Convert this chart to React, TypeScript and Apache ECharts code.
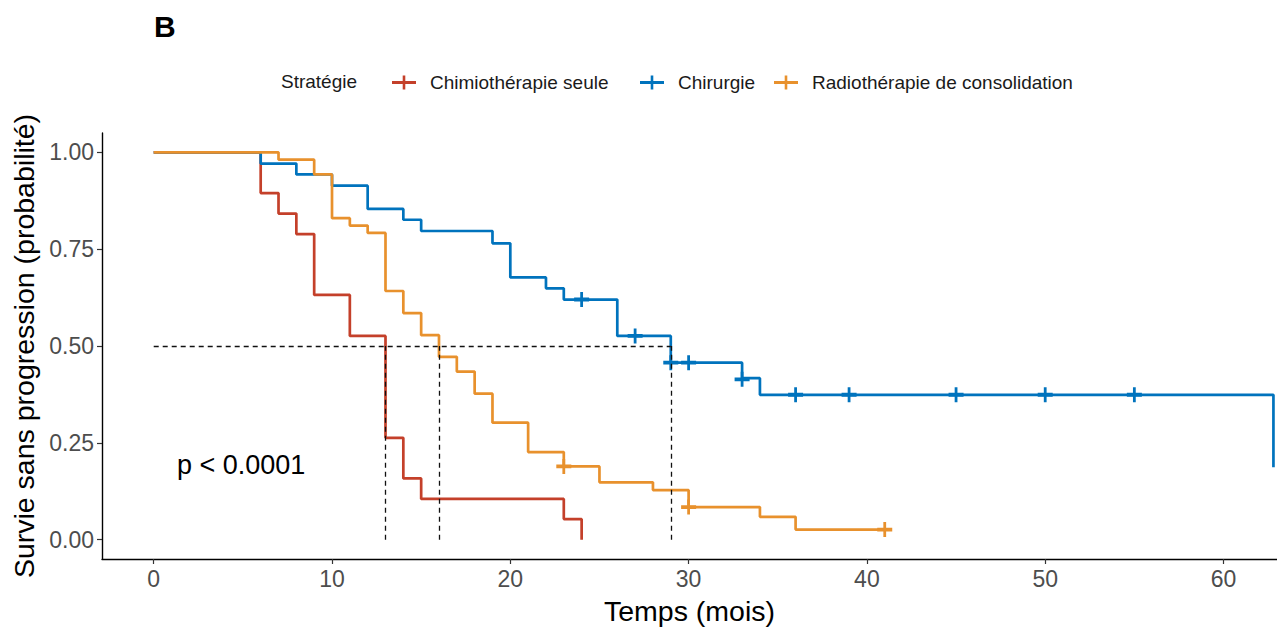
import React, { useEffect, useRef } from "react";
import * as echarts from "echarts";

// ---- data ----
const seriesNames = ["Chimiothérapie seule", "Chirurgie", "Radiothérapie de consolidation"];
const seriesColors = ["#C4402A", "#0073BD", "#E8912D"];

const chimioTime = [0, 6, 7, 8, 9, 11, 13, 14, 15, 23, 24];
const chimioSurv = [1, 0.895, 0.842, 0.789, 0.632, 0.526, 0.263, 0.158, 0.105, 0.053, 0];
const chimioCensorTime: number[] = [];
const chimioCensorSurv: number[] = [];

const chirTime = [0, 6, 8, 10, 12, 14, 15, 19, 20, 22, 23, 26, 29, 33, 34, 62.8];
const chirSurv = [1, 0.971, 0.943, 0.914, 0.854, 0.826, 0.797, 0.765, 0.677, 0.649, 0.62, 0.526, 0.457, 0.417, 0.374, 0.187];
const chirCensorTime = [24, 27, 29, 30, 33, 36, 39, 45, 50, 55];
const chirCensorSurv = [0.62, 0.526, 0.457, 0.457, 0.414, 0.374, 0.374, 0.374, 0.374, 0.374];

const radioTime = [0, 7, 9, 10, 11, 12, 13, 14, 15, 16, 17, 18, 19, 21, 23, 25, 28, 30, 34, 36, 41];
const radioSurv = [1, 0.981, 0.943, 0.83, 0.811, 0.792, 0.642, 0.585, 0.528, 0.472, 0.434, 0.377, 0.302, 0.226, 0.189, 0.148, 0.128, 0.084, 0.059, 0.026, 0.026];
const radioCensorTime = [23, 30, 41];
const radioCensorSurv = [0.189, 0.084, 0.026];

const medianTimes = [13, 16, 29];
const medianLevel = 0.5;

const xTicks = [0, 10, 20, 30, 40, 50, 60];
const yTicks = [0, 0.25, 0.5, 0.75, 1];

const legendTitle = "Stratégie";
const panelLabel = "B";
const pValueText = "p < 0.0001";
const xAxisTitle = "Temps (mois)";
const yAxisTitle = "Survie sans progression (probabilité)";

const FONT = "'Liberation Sans', Arial, Helvetica, sans-serif";

const zip = (a: number[], b: number[]) => a.map((v, i) => [v, b[i]]);

const legendIcon =
  "path://M0,5.6 L24,5.6 L24,8.4 L0,8.4 Z M10.7,0 L13.3,0 L13.3,14 L10.7,14 Z";
const censorIcon =
  "path://M0,5.2 L14,5.2 L14,8.8 L0,8.8 Z M5.7,0 L8.3,0 L8.3,14 L5.7,14 Z";

export default function App() {
  const ref = useRef<HTMLDivElement>(null);

  useEffect(() => {
    if (!ref.current) return;
    const chart = echarts.init(ref.current, undefined, { renderer: "svg" });

    const curves = [
      { t: chimioTime, s: chimioSurv, ct: chimioCensorTime, cs: chimioCensorSurv },
      { t: chirTime, s: chirSurv, ct: chirCensorTime, cs: chirCensorSurv },
      { t: radioTime, s: radioSurv, ct: radioCensorTime, cs: radioCensorSurv },
    ];

    const lineSeries: any[] = curves.map((c, i) => ({
      name: seriesNames[i],
      type: "line",
      step: "end",
      data: zip(c.t, c.s),
      showSymbol: false,
      symbol: "none",
      lineStyle: { color: seriesColors[i], width: 2.7 },
      itemStyle: { color: seriesColors[i] },
      z: 2 + i,
      silent: true,
    }));

    const censorSeries: any[] = curves.map((c, i) => ({
      name: seriesNames[i] + " (censure)",
      type: "scatter",
      data: zip(c.ct, c.cs),
      symbol: censorIcon,
      symbolSize: 15,
      itemStyle: { color: seriesColors[i], opacity: 1 },
      z: 6,
      silent: true,
    }));

    const maxMedian = Math.max(...medianTimes);
    const medianLines: any[] = [
      [{ coord: [0, medianLevel] }, { coord: [maxMedian, medianLevel] }],
      ...medianTimes.map((m) => [{ coord: [m, 0] }, { coord: [m, medianLevel] }]),
    ];

    const medianSeries = {
      name: "median",
      type: "line",
      data: [],
      silent: true,
      z: 8,
      markLine: {
        silent: true,
        symbol: ["none", "none"],
        label: { show: false },
        lineStyle: { color: "#111", type: [5, 4], width: 1.3 },
        emphasis: { disabled: true },
        data: medianLines,
        z: 8,
      },
    };

    const legendLefts = [392, 640, 774];

    chart.setOption({
      animation: false,
      textStyle: { fontFamily: FONT },
      grid: { left: 102, right: 0, top: 133, bottom: 71, containLabel: false },
      legend: seriesNames.map((n, i) => ({
        data: [{ name: n, icon: legendIcon }],
        left: legendLefts[i],
        top: 73,
        padding: 0,
        itemWidth: 24,
        itemHeight: 14,
        selectedMode: false,
        textStyle: { fontSize: 19, color: "#1a1a1a", fontFamily: FONT, padding: [0, 0, 0, 9] },
      })),
      xAxis: {
        type: "value",
        min: -2.9,
        max: 63,
        name: xAxisTitle,
        nameLocation: "middle",
        nameGap: 37,
        nameTextStyle: { fontSize: 28.5, color: "#000", fontFamily: FONT },
        axisLine: { show: true, onZero: false, lineStyle: { color: "#000", width: 1.4 } },
        axisTick: { show: true, length: 5, customValues: xTicks, lineStyle: { color: "#333", width: 1.2 } },
        axisLabel: {
          customValues: xTicks,
          fontSize: 23,
          color: "#4D4D4D",
          margin: 8,
          fontFamily: FONT,
        },
        splitLine: { show: false },
      },
      yAxis: {
        type: "value",
        min: -0.05,
        max: 1.05,
        name: yAxisTitle,
        nameLocation: "middle",
        nameGap: 62,
        nameTextStyle: { fontSize: 28.5, color: "#000", fontFamily: FONT },
        axisLine: { show: true, onZero: false, lineStyle: { color: "#000", width: 1.4 } },
        axisTick: { show: true, length: 5, customValues: yTicks, lineStyle: { color: "#333", width: 1.2 } },
        axisLabel: {
          customValues: yTicks,
          fontSize: 23,
          color: "#4D4D4D",
          margin: 8,
          fontFamily: FONT,
          formatter: (v: number) => v.toFixed(2),
        },
        splitLine: { show: false },
      },
      graphic: [
        {
          type: "text",
          left: 154,
          top: 11,
          style: { text: panelLabel, fontSize: 30, fontWeight: "bold", fill: "#000", fontFamily: FONT },
        },
        {
          type: "text",
          left: 281,
          top: 72,
          style: { text: legendTitle, fontSize: 19, fill: "#1a1a1a", fontFamily: FONT },
        },
        {
          type: "text",
          left: 177,
          top: 451,
          style: { text: pValueText, fontSize: 27, fill: "#000", fontFamily: FONT },
        },
      ],
      series: [...lineSeries, ...censorSeries, medianSeries],
    });

    return () => chart.dispose();
  }, []);

  return (
    <div
      ref={ref}
      style={{ position: "fixed", left: 0, top: 0, width: 1277, height: 630, background: "#fff" }}
    />
  );
}
